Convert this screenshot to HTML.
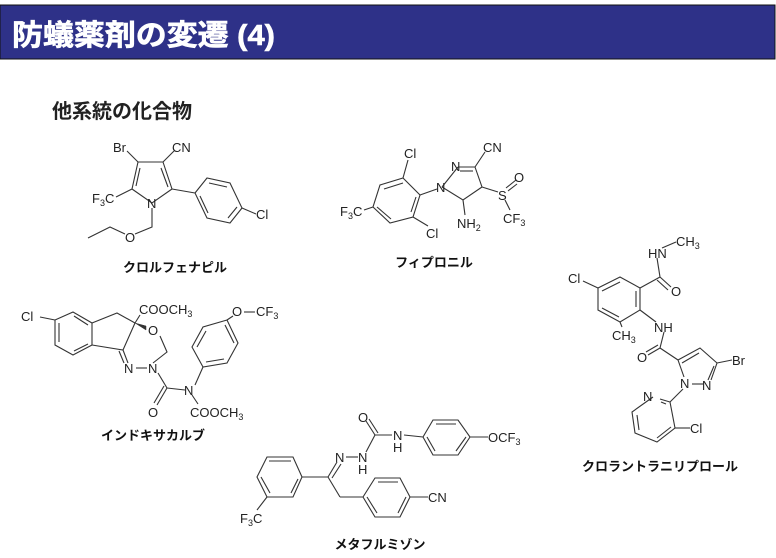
<!DOCTYPE html>
<html><head><meta charset="utf-8"><style>
html,body{margin:0;padding:0;background:#fff;width:776px;height:558px;overflow:hidden}
svg{display:block}
.t{font-family:"Liberation Sans","Noto Sans CJK JP",sans-serif;font-size:13px;fill:#222}
.s{font-size:9px}
.n{font-family:"Liberation Sans","Noto Sans CJK JP",sans-serif;font-size:13px;font-weight:bold;fill:#111}
</style></head><body>
<svg width="776" height="558" viewBox="0 0 776 558" xmlns="http://www.w3.org/2000/svg">
<rect x="0" y="5" width="775" height="54" fill="#2e3188" stroke="#111" stroke-width="1"/>
<text x="12" y="45" font-family="Liberation Sans,Noto Sans CJK JP,sans-serif" font-size="29" font-weight="bold" fill="#fff" stroke="#fff" stroke-width="0.6" textLength="263" lengthAdjust="spacingAndGlyphs">防蟻薬剤の変遷 (4)</text>
<text x="52" y="118" font-family="Liberation Sans,Noto Sans CJK JP,sans-serif" font-size="20" font-weight="bold" fill="#222">他系統の化合物</text>

<g stroke="#333" stroke-width="1.1" fill="none">
<!-- Chlorfenapyr -->
<polyline points="132,189 138,162 163,162 172,189 152,203 132,189"/>
<line x1="140" y1="168" x2="136" y2="186"/><line x1="161" y1="168" x2="168" y2="187"/>
<line x1="138" y1="162" x2="127" y2="151"/><line x1="163" y1="162" x2="174" y2="151"/>
<line x1="132" y1="189" x2="116" y2="197"/>
<line x1="172" y1="189" x2="195" y2="193"/>
<polygon points="195,193 207,178 230,183 242,208 230,223 207,218"/>
<line x1="209" y1="183" x2="227" y2="187"/><line x1="237" y1="207" x2="228" y2="218"/><line x1="208" y1="213" x2="200" y2="196"/>
<line x1="242" y1="208" x2="256" y2="214"/>
<polyline points="152,208 152,227 135,234"/><polyline points="125,234 110,227 88,238"/>
<!-- Fipronil -->
<polyline points="442,187 458,167"/><line x1="458" y1="167" x2="475" y2="167"/><line x1="460" y1="171" x2="473" y2="171"/>
<polyline points="475,167 482,187 463,200 442,187"/>
<line x1="475" y1="167" x2="485" y2="152"/>
<line x1="463" y1="200" x2="465" y2="215"/>
<line x1="482" y1="187" x2="498" y2="192"/><line x1="506" y1="188" x2="516" y2="180"/><line x1="508" y1="191" x2="517" y2="184"/>
<line x1="505" y1="200" x2="510" y2="210"/>
<line x1="437" y1="189" x2="420" y2="195"/>
<polygon points="420,195 403,178 380,185 373,207 390,223 413,217"/>
<line x1="403" y1="183" x2="384" y2="189"/><line x1="377" y1="207" x2="391" y2="219"/><line x1="411" y1="212" x2="416" y2="197"/>
<line x1="403" y1="178" x2="408" y2="160"/><line x1="413" y1="217" x2="428" y2="226"/>
<line x1="373" y1="207" x2="364" y2="210"/>
<!-- Chlorantraniliprole -->
<polygon points="640,288 620,277 598,288 598,310 620,322 640,310"/>
<line x1="620" y1="282" x2="602" y2="291"/><line x1="602" y1="308" x2="619" y2="317"/><line x1="636" y1="307" x2="636" y2="291"/>
<line x1="598" y1="288" x2="583" y2="281"/>
<line x1="640" y1="288" x2="660" y2="277"/><line x1="660" y1="277" x2="671" y2="287"/><line x1="657" y1="280" x2="668" y2="290"/>
<line x1="660" y1="277" x2="657" y2="258"/><line x1="662" y1="248" x2="676" y2="242"/>
<line x1="620" y1="322" x2="622" y2="327"/>
<line x1="640" y1="310" x2="656" y2="322"/>
<line x1="664" y1="332" x2="660" y2="348"/><line x1="660" y1="348" x2="648" y2="355"/><line x1="658" y1="345" x2="646" y2="352"/>
<line x1="660" y1="348" x2="678" y2="360"/>
<polyline points="678,360 700,348 717,363 711,380"/><line x1="682" y1="363" x2="699" y2="353"/>
<line x1="714" y1="366" x2="708" y2="380"/>
<line x1="703" y1="384" x2="692" y2="384"/>
<line x1="678" y1="360" x2="684" y2="377"/>
<line x1="717" y1="363" x2="732" y2="360"/>
<line x1="683" y1="389" x2="670" y2="402"/>
<polyline points="653,397 632,412 635,433 657,442 675,428 670,402 660,399"/>
<line x1="661" y1="402" x2="666" y2="404"/><line x1="637" y1="415" x2="639" y2="430"/><line x1="657" y1="438" x2="671" y2="427"/>
<line x1="675" y1="428" x2="690" y2="428"/>
<!-- Indoxacarb -->
<polygon points="55,320 73,312 92,323 92,345 73,355 55,345"/>
<line x1="74" y1="316" x2="88" y2="325"/><line x1="88" y1="344" x2="74" y2="351"/><line x1="59" y1="342" x2="59" y2="323"/>
<line x1="55" y1="320" x2="40" y2="317"/>
<polyline points="92,323 117,313 135,323 123,350 92,345"/>
<line x1="123" y1="350" x2="128" y2="363"/><line x1="119" y1="351" x2="124" y2="363"/>
<line x1="136" y1="368" x2="147" y2="368"/>
<line x1="158" y1="373" x2="167" y2="388"/>
<polyline points="153,363 167,352 160,336"/>
<line x1="135" y1="323" x2="140" y2="315"/>
<line x1="167" y1="388" x2="157" y2="405"/><line x1="164" y1="386" x2="154" y2="403"/>
<line x1="167" y1="388" x2="185" y2="390"/>
<line x1="192" y1="395" x2="198" y2="404"/>
<line x1="195" y1="385" x2="203" y2="367"/>
<polygon points="203,367 192,347 203,327 227,320 238,343 227,363"/>
<line x1="197" y1="347" x2="206" y2="331"/><line x1="234" y1="343" x2="225" y2="325"/><line x1="224" y1="359" x2="206" y2="362"/>
<line x1="227" y1="320" x2="233" y2="316"/>
<line x1="244" y1="312" x2="255" y2="312"/>
<!-- Metaflumizone -->
<line x1="375" y1="435" x2="366" y2="421"/><line x1="378" y1="433" x2="369" y2="419"/>
<line x1="375" y1="435" x2="392" y2="435"/>
<line x1="404" y1="435" x2="423" y2="437"/>
<polygon points="423,437 433,420 458,420 470,437 458,455 433,455"/>
<line x1="436" y1="424" x2="456" y2="424"/><line x1="466" y1="437" x2="456" y2="451"/><line x1="435" y1="451" x2="427" y2="437"/>
<line x1="470" y1="437" x2="488" y2="437"/>
<line x1="375" y1="435" x2="366" y2="452"/>
<line x1="346" y1="457" x2="358" y2="457"/>
<line x1="337" y1="462" x2="328" y2="477"/><line x1="341" y1="464" x2="332" y2="478"/>
<line x1="328" y1="477" x2="302" y2="477"/>
<polygon points="302,477 293,457 267,457 257,477 267,497 293,497"/>
<line x1="291" y1="461" x2="269" y2="461"/><line x1="261" y1="477" x2="270" y2="493"/><line x1="291" y1="493" x2="298" y2="479"/>
<line x1="267" y1="497" x2="257" y2="510"/>
<line x1="328" y1="477" x2="340" y2="497"/><line x1="340" y1="497" x2="363" y2="497"/>
<polygon points="363,497 375,478 400,478 410,497 400,517 375,517"/>
<line x1="378" y1="482" x2="398" y2="482"/><line x1="406" y1="497" x2="398" y2="513"/><line x1="377" y1="513" x2="367" y2="497"/>
<line x1="410" y1="497" x2="428" y2="497"/>
</g>
<g stroke="#333" fill="#333"><polygon points="135,323 146,326 146,330" stroke-width="0.5"/></g>

<g class="t">
<text x="113" y="152">Br</text><text x="172" y="152">CN</text>
<text x="92" y="203">F<tspan class="s" dy="3">3</tspan><tspan dy="-3">C</tspan></text>
<text x="147" y="208">N</text><text x="256" y="219">Cl</text>
<text x="125" y="242">O</text>
<text x="404" y="158">Cl</text><text x="483" y="152">CN</text>
<text x="451" y="171">N</text><text x="436" y="192">N</text>
<text x="498" y="200">S</text><text x="514" y="182">O</text>
<text x="503" y="223">CF<tspan class="s" dy="3">3</tspan></text>
<text x="457" y="228">NH<tspan class="s" dy="3">2</tspan></text>
<text x="340" y="216">F<tspan class="s" dy="3">3</tspan><tspan dy="-3">C</tspan></text>
<text x="426" y="238">Cl</text>
<text x="648" y="258">HN</text><text x="676" y="246">CH<tspan class="s" dy="3">3</tspan></text>
<text x="671" y="296">O</text><text x="568" y="283">Cl</text>
<text x="612" y="340">CH<tspan class="s" dy="3">3</tspan></text>
<text x="654" y="332">NH</text><text x="637" y="362">O</text>
<text x="732" y="365">Br</text><text x="702" y="390">N</text><text x="680" y="388">N</text>
<text x="643" y="401">N</text><text x="690" y="433">Cl</text>
<text x="21" y="321">Cl</text>
<text x="139" y="314">COOCH<tspan class="s" dy="3">3</tspan></text>
<text x="148" y="335">O</text>
<text x="124" y="373">N</text><text x="148" y="373">N</text>
<text x="184" y="395">N</text><text x="148" y="417">O</text>
<text x="190" y="417">COOCH<tspan class="s" dy="3">3</tspan></text>
<text x="232" y="316">O</text><text x="256" y="316">CF<tspan class="s" dy="3">3</tspan></text>
<text x="358" y="422">O</text>
<text x="393" y="440">N</text><text x="393" y="452">H</text>
<text x="488" y="442">OCF<tspan class="s" dy="3">3</tspan></text>
<text x="358" y="462">N</text><text x="358" y="474">H</text>
<text x="335" y="462">N</text>
<text x="240" y="523">F<tspan class="s" dy="3">3</tspan><tspan dy="-3">C</tspan></text>
<text x="428" y="502">CN</text>
</g>
<g class="n" text-anchor="middle">
<text x="175" y="272">クロルフェナピル</text>
<text x="434" y="267">フィプロニル</text>
<text x="660" y="471">クロラントラニリプロール</text>
<text x="153" y="440">インドキサカルブ</text>
<text x="380" y="549">メタフルミゾン</text>
</g>
</svg>
</body></html>
